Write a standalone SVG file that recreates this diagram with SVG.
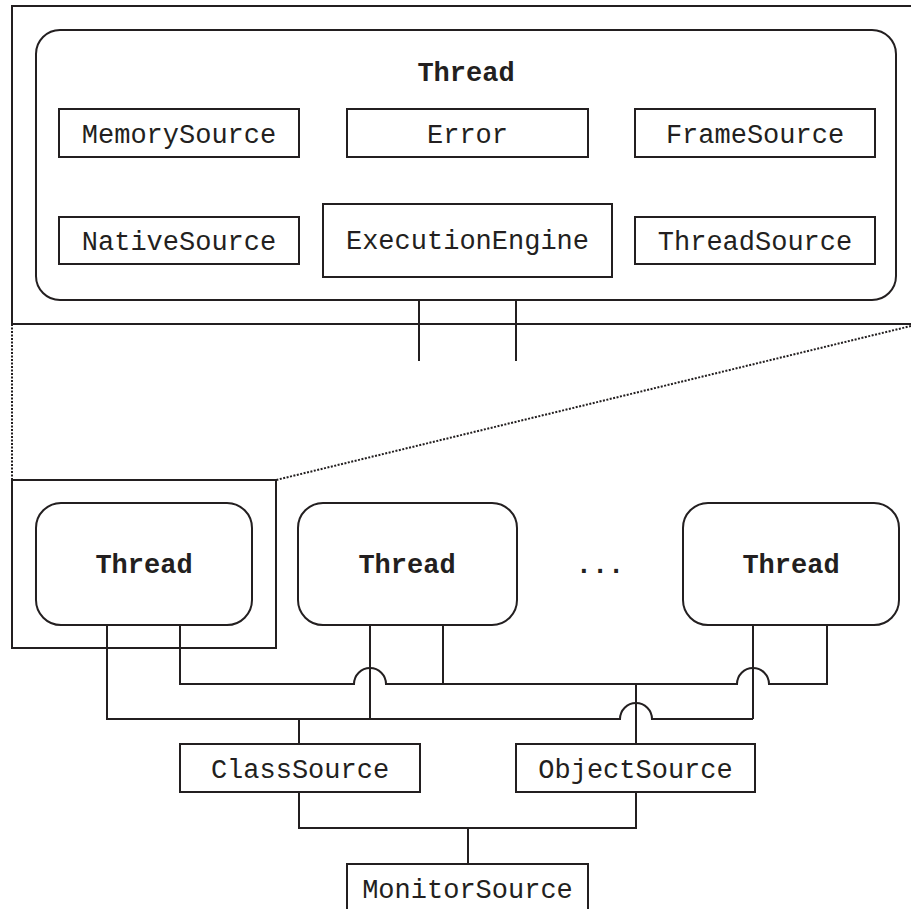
<svg xmlns="http://www.w3.org/2000/svg" width="911" height="909" viewBox="0 0 911 909">
  <style>
    .box { fill: #fff; stroke: #231f20; stroke-width: 2; }
    .frame { fill: none; stroke: #231f20; stroke-width: 2; }
    .wire { fill: none; stroke: #231f20; stroke-width: 2; }
    .dots { fill: none; stroke: #231f20; stroke-width: 2; stroke-dasharray: 2 1.5; }
    .lbl { font-family: "Liberation Mono", "Courier New", monospace; font-size: 27px; fill: #231f20; text-anchor: middle; }
    .bold { font-weight: bold; }
  </style>
  <rect width="911" height="909" fill="#fff"/>

  <!-- zoom frames -->
  <g id="frames">
    <rect class="frame" x="12" y="6" width="920" height="318"/>
    <rect class="frame" x="12" y="480" width="264" height="168"/>
    <path class="dots" d="M12,324 V480"/>
    <path class="dots" d="M911,326 L276,480"/>
  </g>

  <!-- connectors -->
  <g id="connectors">
    <path class="wire" d="M180,157 V174 H396 V204"/>
    <path class="wire" d="M468,157 V204"/>
    <path class="wire" d="M754,157 V187 H540 V204"/>
    <path class="wire" d="M299,240 H323"/>
    <path class="wire" d="M612,241 H635"/>
    <path class="wire" d="M419,277 V361"/>
    <path class="wire" d="M516,277 V361"/>

    <path class="wire" d="M107,625 V719 H620 A16,16 0 0 1 652,719 H753"/>
    <path class="wire" d="M370,625 V719"/>
    <path class="wire" d="M753,625 V719"/>
    <path class="wire" d="M180,625 V684 H354 A16,16 0 0 1 386,684 H737 A16,16 0 0 1 769,684 H827 V625"/>
    <path class="wire" d="M443,625 V684"/>
    <path class="wire" d="M636,684 V744"/>
    <path class="wire" d="M299,719 V744"/>
    <path class="wire" d="M299,792 V828 H636 V792"/>
    <path class="wire" d="M468,828 V864"/>
  </g>

  <!-- expanded thread -->
  <g id="thread-detail">
    <rect class="box" x="36" y="30" width="860" height="270" rx="24" ry="24"/>
    <text class="lbl bold" x="466" y="81">Thread</text>
  </g>
  <g id="memory-source">
    <rect class="box" x="59" y="109" width="240" height="48"/>
    <text class="lbl" x="179" y="143">MemorySource</text>
  </g>
  <g id="error">
    <rect class="box" x="347" y="109" width="241" height="48"/>
    <text class="lbl" x="467.5" y="143">Error</text>
  </g>
  <g id="frame-source">
    <rect class="box" x="635" y="109" width="240" height="48"/>
    <text class="lbl" x="755" y="143">FrameSource</text>
  </g>
  <g id="native-source">
    <rect class="box" x="59" y="217" width="240" height="47"/>
    <text class="lbl" x="179" y="250">NativeSource</text>
  </g>
  <g id="execution-engine">
    <rect class="box" x="323" y="204" width="289" height="73"/>
    <text class="lbl" x="467.5" y="249">ExecutionEngine</text>
  </g>
  <g id="thread-source">
    <rect class="box" x="635" y="217" width="240" height="47"/>
    <text class="lbl" x="755" y="250">ThreadSource</text>
  </g>

  <!-- thread row -->
  <g id="thread-1">
    <rect class="box" x="36" y="503" width="216" height="122" rx="25" ry="25"/>
    <text class="lbl bold" x="144" y="573">Thread</text>
  </g>
  <g id="thread-2">
    <rect class="box" x="298" y="503" width="219" height="122" rx="25" ry="25"/>
    <text class="lbl bold" x="407" y="573">Thread</text>
  </g>
  <g id="ellipsis">
    <text class="lbl bold" x="600" y="573">...</text>
  </g>
  <g id="thread-3">
    <rect class="box" x="683" y="503" width="216" height="122" rx="25" ry="25"/>
    <text class="lbl bold" x="791" y="573">Thread</text>
  </g>

  <!-- shared sources -->
  <g id="class-source">
    <rect class="box" x="180" y="744" width="240" height="48"/>
    <text class="lbl" x="300" y="778">ClassSource</text>
  </g>
  <g id="object-source">
    <rect class="box" x="516" y="744" width="239" height="48"/>
    <text class="lbl" x="635.5" y="778">ObjectSource</text>
  </g>
  <g id="monitor-source">
    <rect class="box" x="347" y="864" width="241" height="60"/>
    <text class="lbl" x="467.5" y="898">MonitorSource</text>
  </g>
</svg>
